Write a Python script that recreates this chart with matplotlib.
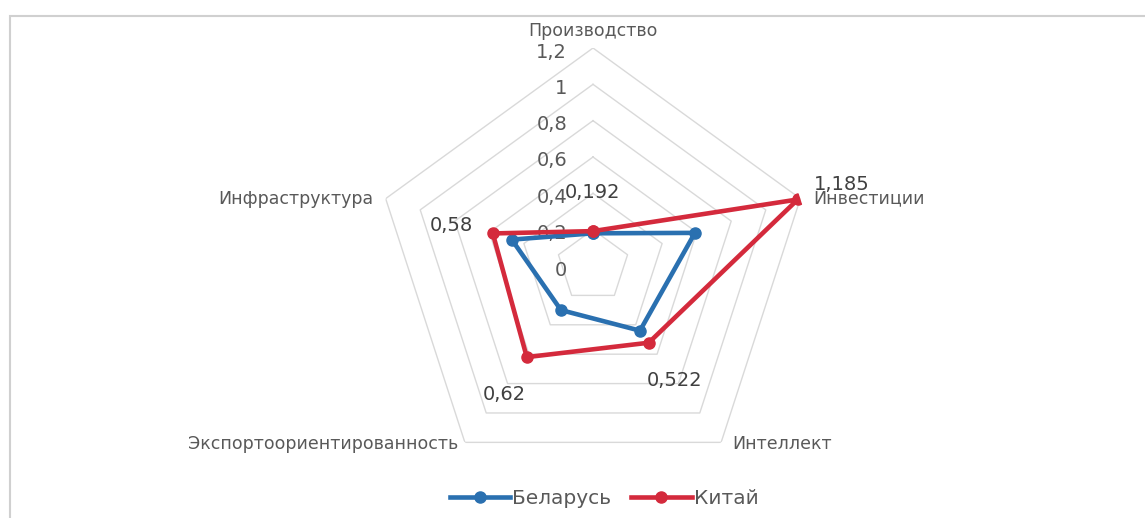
import numpy as np
import matplotlib
matplotlib.use('Agg')
import matplotlib.pyplot as plt
from matplotlib.patches import Rectangle

# chart data
categories = ['Производство', 'Инвестиции', 'Интеллект', 'Экспортоориентированность', 'Инфраструктура']
belarus = [0.18, 0.59, 0.44, 0.30, 0.47]
china = [0.192, 1.185, 0.522, 0.62, 0.58]
china_labels = ['0,192', '1,185', '0,522', '0,62', '0,58']
r_ticks = [0, 0.2, 0.4, 0.6, 0.8, 1.0, 1.2]
r_tick_labels = ['0', '0,2', '0,4', '0,6', '0,8', '1', '1,2']
series_names = ['Беларусь', 'Китай']

plt.rcParams['font.family'] = ['DejaVu Sans']

BLUE = '#2A70B0'
RED = '#D42A3C'
GRID = '#D9D9D9'
TEXT = '#595959'

fig = plt.figure(figsize=(11.45, 5.18), dpi=100)
fig.patch.set_facecolor('white')

# chart frame (right and bottom edges are cut off in the reference)
fig.add_artist(Rectangle((10.5 / 1145, -0.1), 1.2, (518 - 16) / 518 + 0.1,
                         transform=fig.transFigure, fill=False,
                         edgecolor='#D0D0D0', lw=1.5))

# polar axes centred at (593, 266) px with radius 1.2 -> 218 px
cx, cy, R = 593, 266, 218
ax = fig.add_axes([(cx - R) / 1145, (518 - cy - R) / 518, 2 * R / 1145, 2 * R / 518],
                  projection='polar')
ax.set_theta_offset(np.pi / 2)
ax.set_theta_direction(-1)
ax.set_ylim(0, 1.2)
ax.set_axis_off()

n = len(categories)
theta = np.linspace(0, 2 * np.pi, n, endpoint=False)
theta_closed = np.append(theta, theta[0])

# pentagon gridlines
for r in r_ticks[1:]:
    ax.plot(theta_closed, [r] * (n + 1), color=GRID, lw=1, zorder=1)

# radial axis labels
for r, lab in zip(r_ticks, r_tick_labels):
    ax.annotate(lab, (0, r), xytext=(-26, -4), textcoords='offset pixels',
                ha='right', va='center', fontsize=14, color=TEXT,
                annotation_clip=False)

# series
l1, = ax.plot(theta_closed, belarus + belarus[:1], color=BLUE, lw=3.3,
              marker='o', ms=8, zorder=3)
l2, = ax.plot(theta_closed, china + china[:1], color=RED, lw=3.3,
              marker='o', ms=8, zorder=4)

# data labels for Китай
label_offsets = [(0, 39, 'center'), (16, 15, 'left'), (26, -38, 'center'),
                 (-22, -37, 'center'), (-20, 8, 'right')]
for t, v, lab, (dx, dy, ha) in zip(theta, china, china_labels, label_offsets):
    ax.annotate(lab, (t, v), xytext=(dx, dy), textcoords='offset pixels',
                ha=ha, va='center', fontsize=14, color='#404040',
                annotation_clip=False, zorder=6)

# category labels
cat_offsets = [(0, 17, 'center'), (13, 0, 'left'), (11, -2, 'left'),
               (-7, -2, 'right'), (-12, 0, 'right')]
for t, lab, (dx, dy, ha) in zip(theta, categories, cat_offsets):
    ax.annotate(lab, (t, 1.2), xytext=(dx, dy), textcoords='offset pixels',
                ha=ha, va='center', fontsize=12.5, color=TEXT,
                annotation_clip=False)

fig.legend([l1, l2], series_names, loc='center', bbox_to_anchor=(604 / 1145, 19 / 518),
           ncol=2, frameon=False, fontsize=14.5, handlelength=3.0,
           handletextpad=0.1, columnspacing=1.0, labelcolor=TEXT)

fig.savefig('out.png', dpi=100)
